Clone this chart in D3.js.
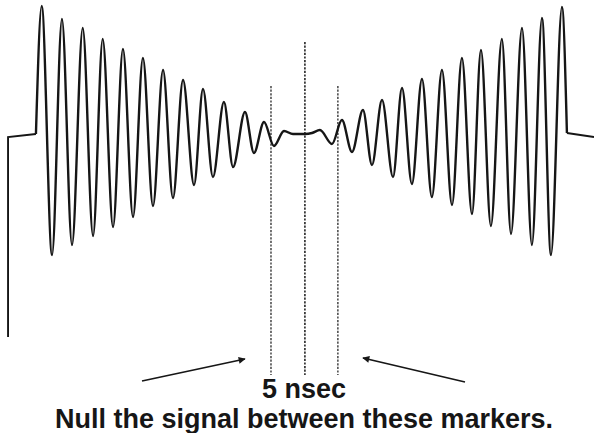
<!DOCTYPE html>
<html>
<head>
<meta charset="utf-8">
<script src="https://cdn.jsdelivr.net/npm/d3@7"></script>
<style>
  html, body { margin: 0; padding: 0; background: #fff; }
  svg { display: block; }
</style>
</head>
<body>
<div id="chart"></div>
<script>
// ---- Data (time in ns, signal in arbitrary units) ----
const leadInT = [0.60, 0.60, 2.68];
const leadInV = [-2.04, -0.04, -0.01];

const waveT = [2.68, 3.11, 3.88, 4.62, 5.37, 6.17, 6.94, 7.66, 8.43, 9.17, 9.92,
  10.66, 11.41, 12.16, 12.90, 13.65, 14.47, 15.14, 15.88, 16.70, 17.38, 18.27,
  18.94, 19.69, 20.43, 21.18, 21.85, 22.74, 23.27, 23.86, 24.76, 25.50, 26.25,
  27.07, 27.74, 28.49, 29.31, 29.98, 30.72, 31.47, 32.21, 32.96, 33.71, 34.45,
  35.20, 35.87, 36.61, 37.43, 38.11, 38.93, 39.67, 40.42, 41.09, 41.91, 42.28];
const waveV = [-0.01, 1.27, -1.22, 1.14, -1.12, 1.05, -1.03, 0.94, -0.94, 0.84, -0.84,
  0.75, -0.73, 0.63, -0.65, 0.53, -0.52, 0.44, -0.44, 0.31, -0.34, 0.21,
  -0.20, 0.11, -0.13, 0.02, -0.01, -0.01, 0.00, 0.03, -0.11, 0.13, -0.19,
  0.23, -0.32, 0.33, -0.44, 0.45, -0.51, 0.54, -0.64, 0.63, -0.72, 0.75,
  -0.81, 0.83, -0.93, 0.94, -1.01, 1.05, -1.12, 1.15, -1.22, 1.26, 0.00];

const leadOutT = [42.28, 44.30];
const leadOutV = [0.00, -0.04];

// markers: time, top value, bottom value
const markerT = [20.21, 22.74, 25.20];
const markerTop = [0.47, 0.91, 0.47];
const markerBottom = [-2.42, -2.42, -2.42];

// arrows: [from t, from v, to t, to v]
const arrowFromT = [10.59, 34.68];
const arrowFromV = [-2.48, -2.49];
const arrowToT = [18.27, 27.07];
const arrowToV = [-2.26, -2.25];

const labelLines = ["5 nsec", "Null the signal between these markers."];

// ---- Drawing ----
const W = 594, H = 433;
const svg = d3.select("#chart").append("svg").attr("width", W).attr("height", H);

const x = d3.scaleLinear().domain([0, 44.3]).range([0, 594]);
const y = d3.scaleLinear().domain([1, -1]).range([33, 233]);

const ink = "#161616";

const linePath = d3.line().x(d => x(d[0])).y(d => y(d[1]));
const wavePath = d3.line().x(d => x(d[0])).y(d => y(d[1])).curve(d3.curveMonotoneX);

svg.append("path")
  .attr("d", linePath(d3.zip(leadInT, leadInV)))
  .attr("fill", "none").attr("stroke", ink).attr("stroke-width", 1.9);

svg.append("path")
  .attr("d", wavePath(d3.zip(waveT, waveV)))
  .attr("fill", "none").attr("stroke", ink).attr("stroke-width", 2.4)
  .attr("stroke-linejoin", "round");

svg.append("path")
  .attr("d", linePath(d3.zip(leadOutT, leadOutV)))
  .attr("fill", "none").attr("stroke", ink).attr("stroke-width", 1.9);

// dotted markers
svg.selectAll("line.marker")
  .data(d3.range(markerT.length))
  .join("line")
  .attr("class", "marker")
  .attr("x1", i => x(markerT[i])).attr("x2", i => x(markerT[i]))
  .attr("y1", i => y(markerTop[i])).attr("y2", i => y(markerBottom[i]))
  .attr("stroke", ink)
  .attr("stroke-width", i => i === 1 ? 1.5 : 1.2)
  .attr("stroke-dasharray", "2.2,1.4");

// arrowheads
svg.append("defs").append("marker")
  .attr("id", "ah")
  .attr("viewBox", "0 0 10 10")
  .attr("refX", 9).attr("refY", 5)
  .attr("markerWidth", 9).attr("markerHeight", 7)
  .attr("markerUnits", "userSpaceOnUse")
  .attr("orient", "auto")
  .append("path").attr("d", "M0,0 L10,5 L0,10 Z").attr("fill", ink);

svg.selectAll("line.arrow")
  .data(d3.range(arrowFromT.length))
  .join("line")
  .attr("class", "arrow")
  .attr("x1", i => x(arrowFromT[i])).attr("y1", i => y(arrowFromV[i]))
  .attr("x2", i => x(arrowToT[i])).attr("y2", i => y(arrowToV[i]))
  .attr("stroke", ink).attr("stroke-width", 1.7)
  .attr("marker-end", "url(#ah)");

// labels
svg.selectAll("text.lbl")
  .data(labelLines)
  .join("text")
  .attr("class", "lbl")
  .attr("x", 304)
  .attr("y", (d, i) => 398 + i * 30)
  .attr("text-anchor", "middle")
  .attr("font-family", "'Liberation Sans', Arial, Helvetica, sans-serif")
  .attr("font-weight", "bold")
  .attr("font-size", 27)
  .attr("fill", ink)
  .text(d => d);
</script>
</body>
</html>
